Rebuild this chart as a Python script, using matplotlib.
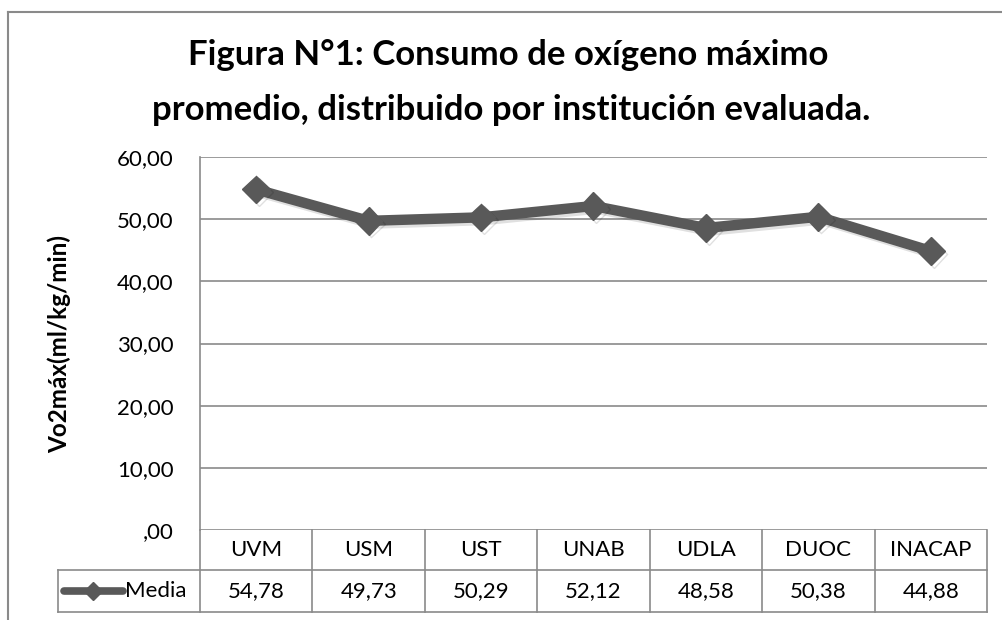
import matplotlib
matplotlib.use('Agg')
import matplotlib.pyplot as plt
import matplotlib.patheffects as pe
from matplotlib.lines import Line2D
from matplotlib.ticker import FuncFormatter

plt.rcParams['font.family'] = ['Lato', 'DejaVu Sans']

# data
instituciones = ['UVM', 'USM', 'UST', 'UNAB', 'UDLA', 'DUOC', 'INACAP']
media = [54.78, 49.73, 50.29, 52.12, 48.58, 50.38, 44.88]
serie = 'Media'
titulo = ['Figura N°1: Consumo de oxígeno máximo',
          'promedio, distribuido por institución evaluada.']
eje_y = 'Vo2máx(ml/kg/min)'
y_ticks = [0, 10, 20, 30, 40, 50, 60]

W, H = 1003, 620
LINE = '#595959'
GRID = '#8a8a8a'


def fmt(v, pos=None):
    s = '%.2f' % v
    s = s.replace('.', ',')
    if s.startswith('0,'):
        s = s[1:]
    return s


def main():
    fig = plt.figure(figsize=(W / 100, H / 100), dpi=100)

    # plot area in pixels
    left, right, top, bottom = 200, 987, 157, 530
    ax = fig.add_axes([left / W, 1 - bottom / H, (right - left) / W, (bottom - top) / H])

    x = list(range(len(instituciones)))
    ax.plot(x, media, color=LINE, lw=7.5, marker='D', ms=14, mfc=LINE, mec=LINE,
            solid_joinstyle='round', clip_on=False, zorder=5,
            path_effects=[pe.SimpleLineShadow(offset=(2, -2), alpha=0.12, shadow_color='black'),
                          pe.Normal()])

    ax.set_xlim(-0.5, len(instituciones) - 0.5)
    ax.set_ylim(0, 60)
    ax.set_yticks(y_ticks)
    ax.yaxis.set_major_formatter(FuncFormatter(fmt))
    ax.set_xticks([])
    ax.tick_params(axis='y', length=0, pad=19, labelsize=16)
    ax.yaxis.grid(True, color=GRID, lw=1.2)
    ax.set_axisbelow(True)
    for s in ['top', 'right', 'bottom']:
        ax.spines[s].set_visible(False)
    ax.spines['left'].set_color(GRID)
    ax.spines['left'].set_linewidth(1.2)
    ax.set_ylabel(eje_y, fontsize=17.5, fontweight='bold', va='center')
    ax.yaxis.set_label_coords((59 - left) / (right - left), 0.5)

    # data table below the plot
    ax_h = bottom - top
    cat_w = (right - left) / len(instituciones)
    r1 = -(570 - bottom) / ax_h
    r2 = -(612 - bottom) / ax_h
    x_key = -0.5 - (left - 58) / cat_w
    tr = ax.get_xaxis_transform()
    kw = dict(color=GRID, lw=1.2, transform=tr, clip_on=False)
    for k in range(len(instituciones) + 1):
        ax.add_line(Line2D([k - 0.5, k - 0.5], [0, r2], **kw))
    ax.add_line(Line2D([x_key, len(instituciones) - 0.5], [r1, r1], **kw))
    ax.add_line(Line2D([x_key, len(instituciones) - 0.5], [r2, r2], **kw))
    ax.add_line(Line2D([x_key, x_key], [r1, r2], **kw))
    for i, (c, v) in enumerate(zip(instituciones, media)):
        ax.text(i, r1 / 2, c, transform=tr, ha='center', va='center', fontsize=16)
        ax.text(i, (r1 + r2) / 2, fmt(v), transform=tr, ha='center', va='center', fontsize=16)

    # legend key inside the table
    ym = (r1 + r2) / 2
    ax.add_line(Line2D([x_key + 0.05, x_key + 0.58], [ym, ym], color=LINE, lw=5.5,
                       solid_capstyle='round', transform=tr, clip_on=False))
    ax.add_line(Line2D([x_key + 0.315], [ym], color=LINE, marker='D', ms=9,
                       transform=tr, clip_on=False))
    ax.text(x_key + 0.6, ym, serie, transform=tr, ha='left', va='center', fontsize=16)

    # title, two lines placed at their baselines
    fig.text(508 / W, 1 - 65 / H, titulo[0], ha='center', va='baseline', fontsize=25,
             fontweight='bold')
    fig.text(511 / W, 1 - 120 / H, titulo[1], ha='center', va='baseline', fontsize=25,
             fontweight='bold')

    # chart border
    fig.add_artist(Line2D([8 / W, 8 / W], [0, 1 - 12 / H], color=GRID, lw=1.5))
    fig.add_artist(Line2D([8 / W, 1], [1 - 12 / H, 1 - 12 / H], color=GRID, lw=1.5))

    fig.savefig('out.png', dpi=100, facecolor='white')


if __name__ == '__main__':
    main()
